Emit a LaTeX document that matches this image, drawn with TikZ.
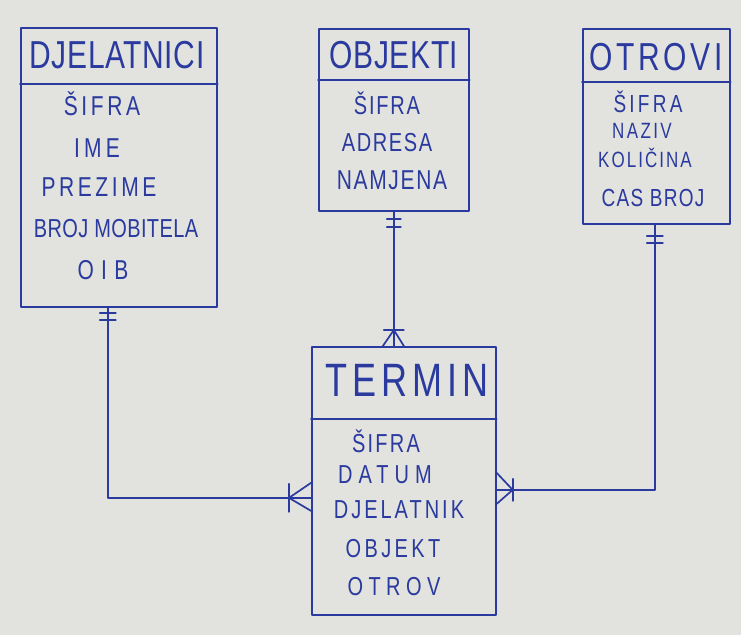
\documentclass[tikz,border=0pt]{standalone}
\usepackage{fontspec}
\usepackage{graphicx}
\setmainfont{Liberation Sans}
\usetikzlibrary{calc}
\definecolor{ink}{HTML}{2A3A9E}
\definecolor{paper}{HTML}{E2E2DF}
\newcommand{\tallt}[1]{\scalebox{1}[1.3]{#1}}
\begin{document}
\begin{tikzpicture}[x=1pt,y=-1pt,
  ln/.style={draw=ink, line width=1.7pt, line cap=round, line join=round},
  box/.style 2 args={ln, inner sep=0pt, minimum width=#1, minimum height=#2, anchor=north west},
  it/.style 2 args={text=ink, inner sep=0pt, font=\fontsize{#1}{#1}\selectfont\addfontfeature{LetterSpace=#2}}]
\fill[paper] (0,0) rectangle (741,635);
\useasboundingbox (0,0) rectangle (741,635);

% DJELATNICI
\node[box={196pt}{279pt}] (djel) at (20,27) {};
\draw[ln] ([yshift=-57pt]djel.north west) -- ([yshift=-57pt]djel.north east);
\node[it={30}{2}] (djelh) at (117,55) {\tallt{DJELATNICI}};
\node[it={21}{17}] (d1) at (102,104) {\tallt{ŠIFRA}};
\node[it={21}{20}] (d2) at (97,148) {\tallt{IME}};
\node[it={21}{17}] (d3) at (99,187) {\tallt{PREZIME}};
\node[it={20}{2}] (d4) at (116,229) {\tallt{BROJ MOBITELA}};
\node[it={21}{35}] (d5) at (103,270) {\tallt{OIB}};

% OBJEKTI
\node[box={150pt}{182pt}] (obj) at (318,28) {};
\draw[ln] ([yshift=-52pt]obj.north west) -- ([yshift=-52pt]obj.north east);
\node[it={30}{2}] (objh) at (394,55) {\tallt{OBJEKTI}};
\node[it={20}{9}] (o1) at (387,103) {\tallt{ŠIFRA}};
\node[it={20}{8}] (o2) at (387,143) {\tallt{ADRESA}};
\node[it={21}{8}] (o3) at (392,180) {\tallt{NAMJENA}};

% OTROVI
\node[box={147pt}{195pt}] (otr) at (582,28) {};
\draw[ln] ([yshift=-54pt]otr.north west) -- ([yshift=-54pt]otr.north east);
\node[it={30}{12}] (otrh) at (656,57) {\tallt{OTROVI}};
\node[it={19}{17}] (t1) at (648,102) {\tallt{ŠIFRA}};
\node[it={17}{14}] (t2) at (642,131) {\tallt{NAZIV}};
\node[it={17}{12}] (t3) at (645,158) {\tallt{KOLIČINA}};
\node[it={19}{7}] (t4) at (653,198) {\tallt{CAS BROJ}};

% TERMIN
\node[box={184pt}{268pt}] (term) at (311,346) {};
\draw[ln] ([yshift=-73pt]term.north west) -- ([yshift=-73pt]term.north east);
\node[it={36}{14}] (termh) at (407,380) {\tallt{TERMIN}};
\node[it={20}{11}] (m1) at (386,441) {\tallt{ŠIFRA}};
\node[it={20}{30}] (m2) at (385,475) {\tallt{DATUM}};
\node[it={20}{15}] (m3) at (399,510) {\tallt{DJELATNIK}};
\node[it={20}{17}] (m4) at (393,549) {\tallt{OBJEKT}};
\node[it={20}{27}] (m5) at (394,587) {\tallt{OTROV}};

% connection points
\coordinate (ds) at ([xshift=-11pt]djel.south);
\coordinate (tw) at ([yshift=-17pt]term.west);
\coordinate (os) at (obj.south);
\coordinate (tn) at (os |- term.north);
\coordinate (rs) at ([xshift=-1.5pt]otr.south);
\coordinate (te) at ([yshift=-9pt]term.east);

% DJELATNICI -- TERMIN
\draw[ln] (ds) |- (tw);
\draw[ln] ($(ds)+(-8,5)$) -- ++(16,0);
\draw[ln] ($(ds)+(-8,12)$) -- ++(16,0);
\coordinate (twc) at ($(tw)+(-22,0)$);
\draw[ln] ($(twc)+(0,-14)$) -- ($(twc)+(0,14)$);
\draw[ln] ($(tw)+(0,-15)$) -- (twc) -- ($(tw)+(0,13)$);

% OBJEKTI -- TERMIN
\draw[ln] (os) -- (tn);
\draw[ln] ($(os)+(-7,7)$) -- ++(14,0);
\draw[ln] ($(os)+(-7,15)$) -- ++(14,0);
\coordinate (tnc) at ($(tn)+(0,-16)$);
\draw[ln] ($(tnc)+(-10,0)$) -- ($(tnc)+(10,0)$);
\draw[ln] ($(tn)+(-11,0)$) -- (tnc) -- ($(tn)+(10,0)$);

% OTROVI -- TERMIN
\draw[ln] (rs) |- (te);
\draw[ln] ($(rs)+(-8,11)$) -- ++(16,0);
\draw[ln] ($(rs)+(-8,18)$) -- ++(16,0);
\coordinate (tec) at ($(te)+(16,0)$);
\draw[ln] ($(tec)+(0,-11)$) -- ($(tec)+(0,11)$);
\draw[ln] ($(te)+(0,-17)$) -- (tec) -- ($(te)+(0,14)$);
\end{tikzpicture}
\end{document}
